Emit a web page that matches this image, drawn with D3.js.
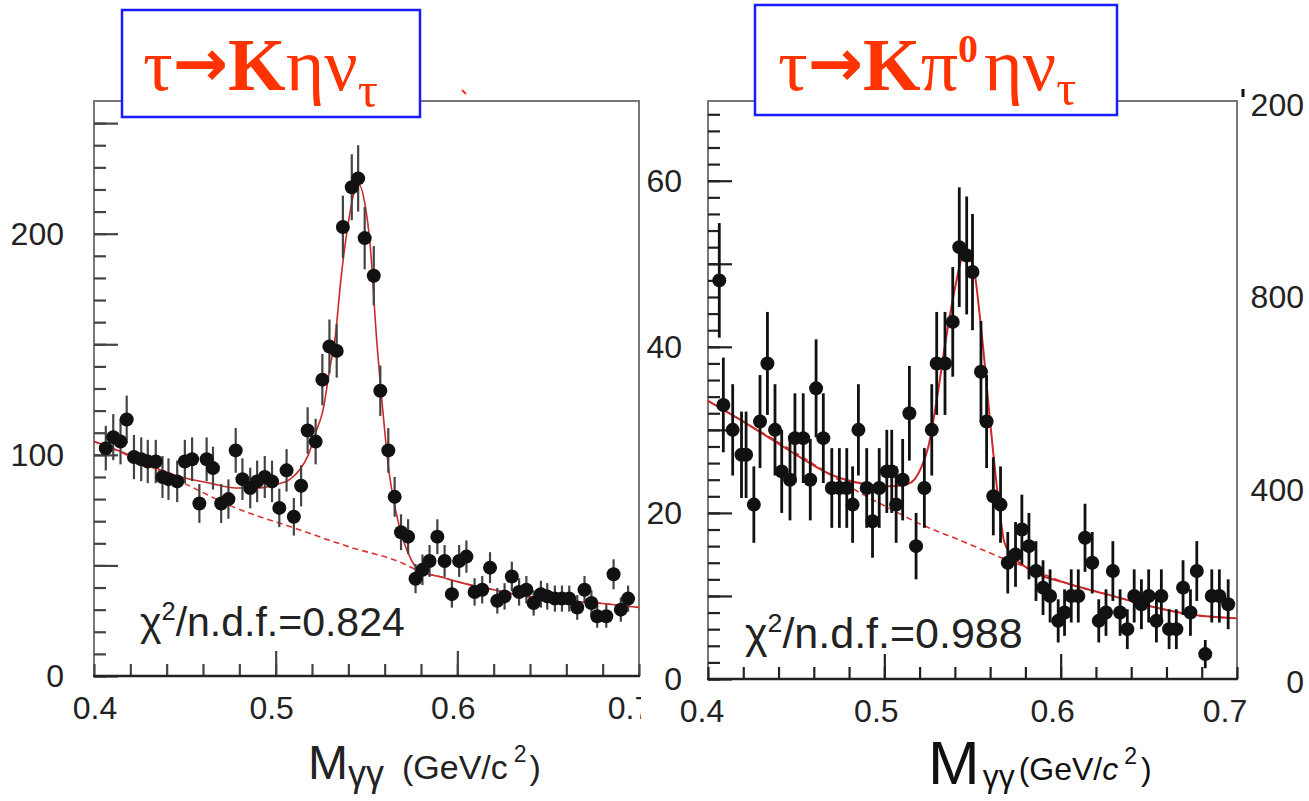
<!DOCTYPE html>
<html>
<head>
<meta charset="utf-8">
<script src="https://cdn.jsdelivr.net/npm/d3@7"></script>
<style>
  body { margin: 0; background: #fff; }
  svg { display: block; }
</style>
</head>
<body>
<script>
// left panel: tau -> K eta nu  (counts per bin)
const kEtaX = [0.4065,0.4106,0.4146,0.418,0.422,0.426,0.4296,0.434,0.4377,0.441,0.4458,0.45,0.454,0.458,0.462,0.4655,0.470,0.474,0.478,0.4817,0.486,0.4898,0.494,0.498,0.502,0.506,0.510,0.514,0.5176,0.522,0.5257,0.5296,0.5336,0.537,0.5419,0.5454,0.549,0.554,0.5576,0.562,0.5655,0.569,0.5729,0.577,0.5808,0.5847,0.589,0.593,0.597,0.601,0.605,0.6095,0.6137,0.618,0.622,0.626,0.630,0.634,0.638,0.642,0.646,0.6495,0.6537,0.6576,0.6616,0.666,0.670,0.6738,0.677,0.682,0.686,0.690,0.694];
const kEtaY = [103,108,106,116,99,98,97,97,90,89,88,97,98,78,98,94,78,80,102,89,85,88,90,88,76,93,72,86,111,106,134,149,147,203,221,225,198,181,129,102,81,65,63,44,48,52,63,52,37,52,54,38,39,49,34,36,45,38,39,33,37,36,35,35,35,31,39,33,27,27,46,30,35];
const kEtaErr = [10.1,10.4,10.3,10.8,10,9.9,9.8,9.8,9.5,9.4,9.4,9.8,9.9,8.8,9.9,9.7,8.8,8.9,10.1,9.4,9.2,9.4,9.5,9.4,8.7,9.6,8.5,9.3,10.5,10.3,11.6,12.2,12.1,14.2,14.9,15,14.1,13.4,11.4,10.1,9,8.1,7.9,6.6,6.9,7.2,7.9,7.2,6.1,7.2,7.3,6.2,6.2,7,5.8,6,6.7,6.2,6.2,5.7,6.1,6,5.9,5.9,5.9,5.6,6.2,5.7,5.2,5.2,6.8,5.5,5.9];
const kEtaFitX = [0.400,0.410,0.425,0.440,0.448,0.465,0.478,0.490,0.500,0.508,0.513,0.518,0.522,0.526,0.530,0.5326,0.536,0.540,0.543,0.546,0.549,0.552,0.5556,0.559,0.562,0.566,0.570,0.575,0.580,0.590,0.603,0.620,0.638,0.660,0.677,0.700];
const kEtaFitY = [106,103,98,92,90,87,85,85,86.5,89,93,100,110,120,140,152,180,205,218,222,214,195,152,120,95,75,62,52,47,45,42,39,36,34,33,31];
const kEtaBgX = [0.400,0.410,0.425,0.440,0.450,0.478,0.510,0.540,0.570,0.580,0.590,0.603,0.620,0.638,0.660,0.677,0.700];
const kEtaBgY = [106,103,97,91,87,76,67,58.5,51,47,45,42,39,36,34,33,31];

// right panel: tau -> K pi0 eta nu
const kPiEtaX = [0.4064,0.4087,0.414,0.419,0.4216,0.426,0.4295,0.4337,0.438,0.4418,0.4465,0.4493,0.454,0.458,0.4613,0.4654,0.4702,0.4745,0.4787,0.482,0.4853,0.49,0.4933,0.4971,0.5014,0.5042,0.5067,0.5104,0.5142,0.518,0.5227,0.5269,0.5297,0.5344,0.5388,0.5425,0.5467,0.55,0.5548,0.558,0.5618,0.5659,0.57,0.5744,0.578,0.582,0.586,0.59,0.594,0.5986,0.6022,0.606,0.61,0.6138,0.6179,0.6216,0.6257,0.6296,0.6337,0.6378,0.6417,0.6458,0.6499,0.6543,0.6571,0.6615,0.6656,0.6694,0.6736,0.6772,0.682,0.6857,0.69,0.695];
const kPiEtaY = [48,33,30,27,27,21,31,38,30,25,24,29,29,24,35,29,23,23,23,21,30,23,19,23,25,25,21,24,32,16,23,30,38,38,43,52,51,49,37,31,22,21,14,15,18,16,13,11,10,7,8,10,10,17,14,7,8,13,8,6,10,9,10,7,10,6,6,11,8,13,3,10,10,9];
const kPiEtaErr = [6.9,5.7,5.5,5.2,5.2,4.6,5.6,6.2,5.5,5,4.9,5.4,5.4,4.9,5.9,5.4,4.8,4.8,4.8,4.6,5.5,4.8,4.4,4.8,5,5,4.6,4.9,5.7,4,4.8,5.5,6.2,6.2,6.6,7.2,7.1,7,6.1,5.6,4.7,4.6,3.7,3.9,4.2,4,3.6,3.3,3.2,2.6,2.8,3.2,3.2,4.1,3.7,2.6,2.8,3.6,2.8,2.4,3.2,3,3.2,2.6,3.2,2.4,2.4,3.3,2.8,3.6,1.7,3.2,3.2,3];
const kPiEtaFitX = [0.400,0.420,0.435,0.450,0.471,0.488,0.502,0.512,0.517,0.521,0.525,0.530,0.535,0.540,0.545,0.550,0.555,0.560,0.565,0.568,0.572,0.580,0.604,0.628,0.652,0.676,0.700];
const kPiEtaFitY = [33.5,31,29,27,24.5,23.5,23.2,23.4,24,25.5,28,34,41,47,51,50,42,31,21,16.5,15,13.5,11.5,10.1,8.7,7.7,7.3];
const kPiEtaBgX = [0.400,0.420,0.440,0.459,0.488,0.5025,0.519,0.543,0.570,0.580,0.604,0.628,0.652,0.676,0.700];
const kPiEtaBgY = [33.5,31,28.5,26,22.2,20.6,18.8,16.7,14.3,13.5,11.5,10.1,8.7,7.7,7.3];

const xTickLabels = ["0.4", "0.5", "0.6", "0.7"];
const xTickValues = [0.4, 0.5, 0.6, 0.7];
const leftYTicks = [0, 100, 200];
const rightYTicks = [0, 20, 40, 60];
const ghostValues = [0, 400, 800, 1200];
const ghostLabels = ["0", "400", "800", "200"];

const W = 1309, H = 801;
const svg = d3.select("body").append("svg").attr("width", W).attr("height", H);
svg.append("rect").attr("width", W).attr("height", H).attr("fill", "#fff");

const sans = "'Liberation Sans', Arial, sans-serif";
const serif = "'Liberation Serif', 'Times New Roman', serif";

function drawPanel(g, o) {
  const x = o.x, y = o.y;
  const [x0, x1] = x.range();
  const [yb, yt] = y.range();

  // frame
  g.append("path")
    .attr("d", `M${x0},${yb}V${yt}H${x1}V${yb}`)
    .attr("fill", "none").attr("stroke", "#777").attr("stroke-width", 2);

  // ticks
  function ticks(axis, tr, size) {
    const a = g.append("g").attr("transform", tr)
      .call(axis.tickSize(size).tickFormat(""));
    a.select(".domain").remove();
    a.selectAll("line").attr("stroke", o.tickColor).attr("stroke-width", 2.2);
  }
  ticks(d3.axisTop(x).tickValues(d3.range(0.4, 0.701, 0.02)), `translate(0,${yb})`, 12);
  ticks(d3.axisTop(x).tickValues([0.5, 0.6]), `translate(0,${yb})`, 25);
  ticks(d3.axisRight(y).tickValues(d3.range(0, y.domain()[1], o.minorY)), `translate(${x0},0)`, 12);
  ticks(d3.axisRight(y).tickValues(d3.range(0, y.domain()[1], o.majorY)), `translate(${x0},0)`, 24);

  g.append("line").attr("x1", x0 - 1).attr("x2", x1 + 1).attr("y1", yb).attr("y2", yb)
    .attr("stroke", "#222").attr("stroke-width", 2.6);

  // fit curves
  const line = d3.line().x(d => x(d[0])).y(d => y(d[1])).curve(d3.curveMonotoneX);
  g.append("path").datum(d3.zip(o.bgX, o.bgY)).attr("d", line)
    .attr("fill", "none").attr("stroke", "#d33").attr("stroke-width", 1.6)
    .attr("stroke-dasharray", "6,4");
  g.append("path").datum(d3.zip(o.fitX, o.fitY)).attr("d", line)
    .attr("fill", "none").attr("stroke", "#cc2a2a").attr("stroke-width", o.fitWidth);

  // data with error bars
  const pts = d3.zip(o.px, o.py, o.pe);
  g.selectAll(null).data(pts).enter().append("line")
    .attr("x1", d => x(d[0])).attr("x2", d => x(d[0]))
    .attr("y1", d => y(Math.max(0, d[1] - d[2]))).attr("y2", d => y(d[1] + d[2]))
    .attr("stroke", o.barColor).attr("stroke-width", o.barWidth);
  g.selectAll(null).data(pts).enter().append("circle")
    .attr("cx", d => x(d[0])).attr("cy", d => y(d[1])).attr("r", 7)
    .attr("fill", "#111");

  // tick labels
  g.selectAll(null).data(xTickValues).enter().append("text")
    .attr("x", (d, i) => x(d) + o.xLabelShift[i]).attr("y", yb + 43)
    .attr("text-anchor", "middle").attr("font-family", sans).attr("font-size", 32)
    .attr("fill", "#222").text((d, i) => xTickLabels[i]);
  g.selectAll(null).data(o.yTicks).enter().append("text")
    .attr("x", o.yLabelX).attr("y", d => y(d) + 11)
    .attr("text-anchor", "end").attr("font-family", sans).attr("font-size", 32)
    .attr("fill", "#222").text(d => d);

  // chi2 text
  const t = g.append("text").attr("x", o.chiX).attr("y", o.chiY)
    .attr("font-family", sans).attr("font-size", o.chiSize).attr("fill", "#222");
  t.append("tspan").text("\u03c7");
  t.append("tspan").attr("dy", -16).attr("font-size", o.chiSize * 0.62).text("2");
  t.append("tspan").attr("dy", 16).text("/n.d.f.=" + o.chi);
}

// left panel
const xL = d3.scaleLinear().domain([0.4, 0.7]).range([94, 639]);
const yL = d3.scaleLinear().domain([0, 260]).range([676, 101]);
const gL = svg.append("g");
drawPanel(gL, {
  x: xL, y: yL, px: kEtaX, py: kEtaY, pe: kEtaErr,
  fitX: kEtaFitX, fitY: kEtaFitY, bgX: kEtaBgX, bgY: kEtaBgY,
  minorY: 10, majorY: 50, tickColor: "#444", barColor: "#444", barWidth: 2.2, fitWidth: 1.6,
  yTicks: leftYTicks, yLabelX: 64, xLabelShift: [1, -4, -4, -9],
  chi: "0.824", chiX: 140, chiY: 636, chiSize: 41
});
gL.append("line").attr("x1", 462).attr("x2", 466).attr("y1", 90).attr("y2", 94)
  .attr("stroke", "#e33").attr("stroke-width", 2);

// left x title
const tl = svg.append("text").attr("x", 308).attr("y", 779)
  .attr("font-family", sans).attr("fill", "#222");
tl.append("tspan").attr("font-size", 48).text("M");
tl.append("tspan").attr("font-size", 36).attr("dy", 7).text("\u03b3\u03b3");
tl.append("tspan").attr("font-size", 34).attr("dy", -7).attr("dx", 18).text("(GeV/c");
tl.append("tspan").attr("font-size", 23).attr("dy", -17).attr("dx", 6).text("2");
tl.append("tspan").attr("font-size", 34).attr("dy", 17).attr("dx", 3).text(")");

// right panel sits on its own white sheet
svg.append("rect").attr("x", 641).attr("y", 0).attr("width", W - 641).attr("height", H).attr("fill", "#fff");

const xR = d3.scaleLinear().domain([0.4, 0.7]).range([708, 1237]);
const yR = d3.scaleLinear().domain([0, 69.6]).range([679, 101]);
const gR = svg.append("g");
drawPanel(gR, {
  x: xR, y: yR, px: kPiEtaX, py: kPiEtaY, pe: kPiEtaErr,
  fitX: kPiEtaFitX, fitY: kPiEtaFitY, bgX: kPiEtaBgX, bgY: kPiEtaBgY,
  minorY: 2, majorY: 10, tickColor: "#222", barColor: "#111", barWidth: 2.8, fitWidth: 2,
  yTicks: rightYTicks, yLabelX: 682, xLabelShift: [-6, -8, -8, -12],
  chi: "0.988", chiX: 745, chiY: 648, chiSize: 43
});

// right x title
const tr = svg.append("text").attr("x", 928).attr("y", 784)
  .attr("font-family", sans).attr("fill", "#111");
tr.append("tspan").attr("font-size", 62).text("M");
tr.append("tspan").attr("font-size", 32).attr("dy", 3).attr("dx", 3).text("\u03b3\u03b3");
tr.append("tspan").attr("font-size", 32).attr("dy", -7).attr("dx", 4).text("(GeV/");
tr.append("tspan").attr("font-size", 32).attr("font-style", "italic").text("c");
tr.append("tspan").attr("font-size", 23).attr("dy", -16).attr("dx", 6).text("2");
tr.append("tspan").attr("font-size", 32).attr("dy", 16).attr("dx", 4).text(")");

// labels of the neighbouring plot at the far right
const yG = d3.scaleLinear().domain([0, 1200]).range([682, 105]);
svg.selectAll(null).data(ghostValues).enter().append("text")
  .attr("x", 1304).attr("y", d => yG(d) + 11)
  .attr("text-anchor", "end").attr("font-family", sans).attr("font-size", 32)
  .attr("fill", "#222").text((d, i) => ghostLabels[i]);
svg.append("line").attr("x1", 1243).attr("x2", 1243).attr("y1", 89).attr("y2", 97)
  .attr("stroke", "#111").attr("stroke-width", 3);

// title boxes
function titleBox(x, y, w, h, tx, parts) {
  svg.append("rect").attr("x", x).attr("y", y).attr("width", w).attr("height", h)
    .attr("fill", "#fff").attr("stroke", "#1a1aff").attr("stroke-width", 2.5);
  const t = svg.append("text").attr("x", tx).attr("y", 90)
    .attr("font-family", serif).attr("font-size", 74).attr("fill", "#ff3300");
  parts.forEach(p => {
    const s = t.append("tspan").text(p.t);
    if (p.b) s.attr("font-weight", "bold");
    if (p.f) s.attr("font-family", p.f);
    if (p.fs) s.attr("font-size", p.fs);
    if (p.dy) s.attr("dy", p.dy);
    if (p.dx) s.attr("dx", p.dx);
  });
}
const arrowFont = "'DejaVu Sans', sans-serif";
titleBox(122, 10, 298, 107, 143, [
  {t: "\u03c4"}, {t: "\u2192", b: true, f: arrowFont, fs: 66, dy: -4}, {t: "K", b: true, dy: 4},
  {t: "\u03b7"}, {t: "\u03bd"}, {t: "\u03c4", fs: 50, dy: 17}
]);
titleBox(755, 5, 362, 110, 778, [
  {t: "\u03c4"}, {t: "\u2192", b: true, f: arrowFont, fs: 66, dy: -4}, {t: "K", b: true, dy: 4},
  {t: "\u03c0"}, {t: "0", b: true, fs: 40, dy: -28}, {t: "\u03b7", dy: 28, dx: 6}, {t: "\u03bd"},
  {t: "\u03c4", fs: 50, dy: 15}
]);
</script>
</body>
</html>
